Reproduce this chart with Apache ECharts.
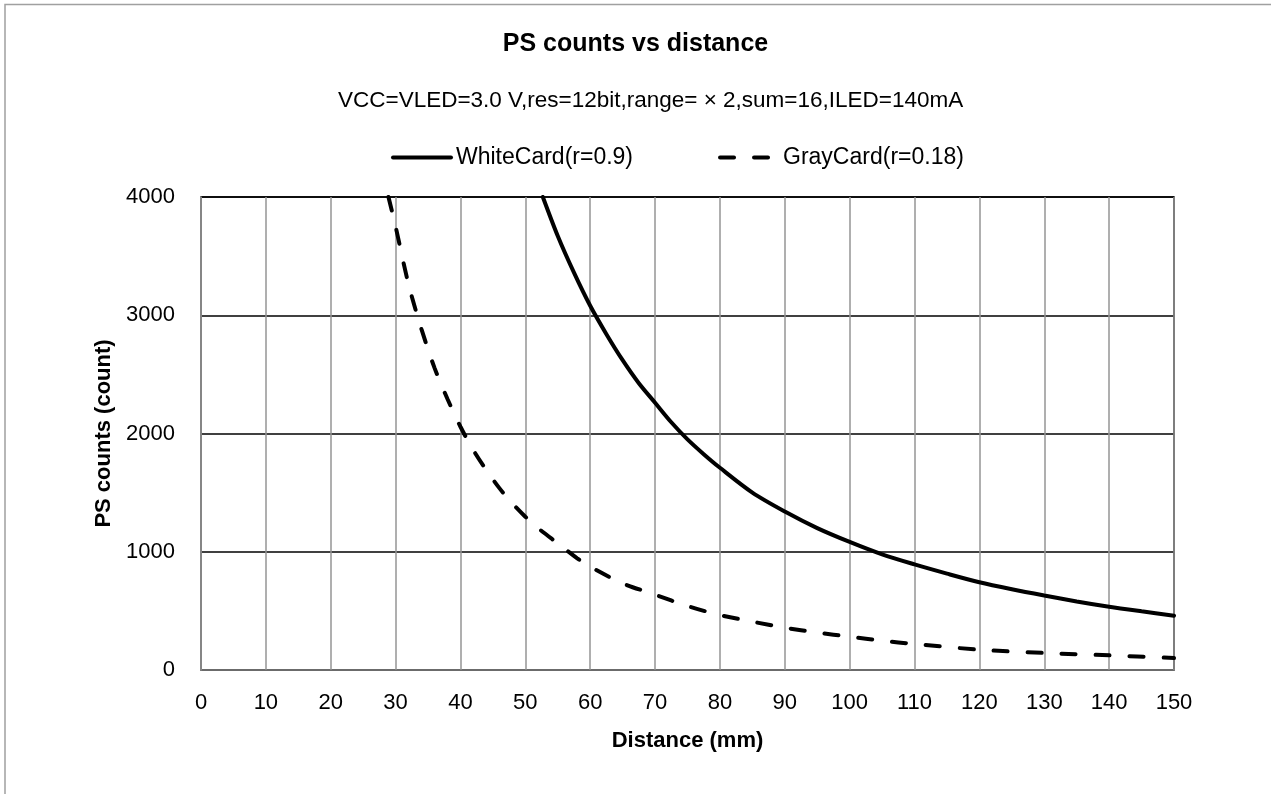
<!DOCTYPE html>
<html>
<head>
<meta charset="utf-8">
<script src="https://cdn.jsdelivr.net/npm/echarts@6/dist/echarts.min.js"></script>
<style>
html,body{margin:0;padding:0;background:#fff;}
#chart{width:1271px;height:794px;}
</style>
</head>
<body>
<div id="chart"></div>
<script>
// Data
const chartTitle = 'PS counts vs distance';
const chartSubtitle = 'VCC=VLED=3.0 V,res=12bit,range= × 2,sum=16,ILED=140mA';
const seriesNames = ['WhiteCard(r=0.9)', 'GrayCard(r=0.18)'];
const xAxisName = 'Distance (mm)';
const yAxisName = 'PS counts (count)';
const xTicks = { min: 0, max: 150, interval: 10 };
const yTicks = { min: 0, max: 4000, interval: 1000 };

const whiteDistance = [52.7, 55, 57.5, 60, 62.5, 65, 67.5, 70, 72.5, 75, 77.5, 80, 85, 90, 95, 100, 105, 110, 115, 120, 125, 130, 135, 140, 145, 150];
const whiteCounts   = [4000, 3670, 3360, 3080, 2840, 2620, 2425, 2260, 2095, 1950, 1825, 1710, 1500, 1340, 1200, 1083, 978, 893, 815, 742, 683, 630, 580, 535, 496, 459];

const grayDistance = [28.9, 30, 32, 34, 36, 38, 40, 42, 44, 46, 48, 50, 52, 55, 58, 60, 65, 70, 75, 80, 85, 90, 95, 100, 105, 110, 120, 130, 140, 150];
const grayCounts   = [4000, 3750, 3260, 2880, 2555, 2292, 2057, 1858, 1690, 1538, 1409, 1296, 1198, 1071, 944, 873, 733, 637, 541, 465, 409, 358, 316, 282, 248, 220, 172, 144, 124, 101];

const FONT = '"Liberation Sans", Arial, sans-serif';
const solidStyle = { color: '#000', width: 4, type: 'solid', cap: 'round' };
const dashStyle = { color: '#000', width: 4, type: [14, 20], cap: 'round' };

const chart = echarts.init(document.getElementById('chart'), null, { renderer: 'canvas' });

chart.setOption({
  backgroundColor: '#ffffff',
  animation: false,
  textStyle: { fontFamily: FONT, color: '#000' },
  title: [
    {
      text: chartTitle,
      left: 'center',
      top: 27,
      textStyle: { fontFamily: FONT, fontSize: 25, fontWeight: 'bold', color: '#000' }
    },
    {
      text: chartSubtitle,
      left: 333,
      top: 84,
      textStyle: { fontFamily: FONT, fontSize: 22.5, fontWeight: 'normal', color: '#000' }
    }
  ],
  legend: {
    left: 386,
    top: 141,
    itemWidth: 58,
    itemHeight: 24,
    itemGap: 85,
    itemStyle: { opacity: 0 },
    textStyle: { fontFamily: FONT, fontSize: 23, color: '#000' },
    data: [
      { name: seriesNames[0], lineStyle: solidStyle, itemStyle: { opacity: 0 } },
      { name: seriesNames[1], lineStyle: dashStyle, itemStyle: { opacity: 0 } }
    ]
  },
  graphic: [
    {
      type: 'polyline',
      silent: true,
      shape: { points: [[5, 794], [5, 4.5], [1271, 4.5]] },
      style: { stroke: '#a0a0a0', lineWidth: 1.5, fill: null }
    }
  ],
  grid: {
    left: 201,
    right: 97,
    top: 197,
    bottom: 124,
    show: true,
    borderColor: '#000',
    borderWidth: 1.5,
    backgroundColor: 'transparent'
  },
  xAxis: {
    type: 'value',
    min: xTicks.min,
    max: xTicks.max,
    interval: xTicks.interval,
    name: xAxisName,
    nameLocation: 'middle',
    nameGap: 60,
    nameTextStyle: { fontFamily: FONT, fontSize: 22, fontWeight: 'bold', color: '#000' },
    axisLine: { show: true, onZero: false, lineStyle: { color: '#8a8a8a', width: 1.5 } },
    axisTick: { show: false },
    axisLabel: { fontFamily: FONT, fontSize: 22, color: '#000', margin: 22, formatter: v => String(v) },
    splitLine: { show: true, lineStyle: { color: '#959595', width: 1.5 } }
  },
  yAxis: {
    type: 'value',
    min: yTicks.min,
    max: yTicks.max,
    interval: yTicks.interval,
    name: yAxisName,
    nameLocation: 'middle',
    nameGap: 69,
    nameTextStyle: { fontFamily: FONT, fontSize: 22, fontWeight: 'bold', color: '#000' },
    axisLine: { show: true, lineStyle: { color: '#8a8a8a', width: 1.5 } },
    axisTick: { show: false },
    axisLabel: { fontFamily: FONT, fontSize: 22, color: '#000', margin: 26, formatter: v => String(v) },
    splitLine: { show: true, lineStyle: { color: '#000', width: 1.5 } }
  },
  series: [
    {
      name: seriesNames[0],
      type: 'line',
      data: whiteDistance.map((d, i) => [d, whiteCounts[i]]),
      showSymbol: false,
      symbol: 'none',
      smooth: 0.3,
      clip: true,
      lineStyle: solidStyle,
      itemStyle: { color: '#000' }
    },
    {
      name: seriesNames[1],
      type: 'line',
      data: grayDistance.map((d, i) => [d, grayCounts[i]]),
      showSymbol: false,
      symbol: 'none',
      smooth: 0.3,
      clip: true,
      lineStyle: dashStyle,
      itemStyle: { color: '#000' }
    }
  ]
});
</script>
</body>
</html>
